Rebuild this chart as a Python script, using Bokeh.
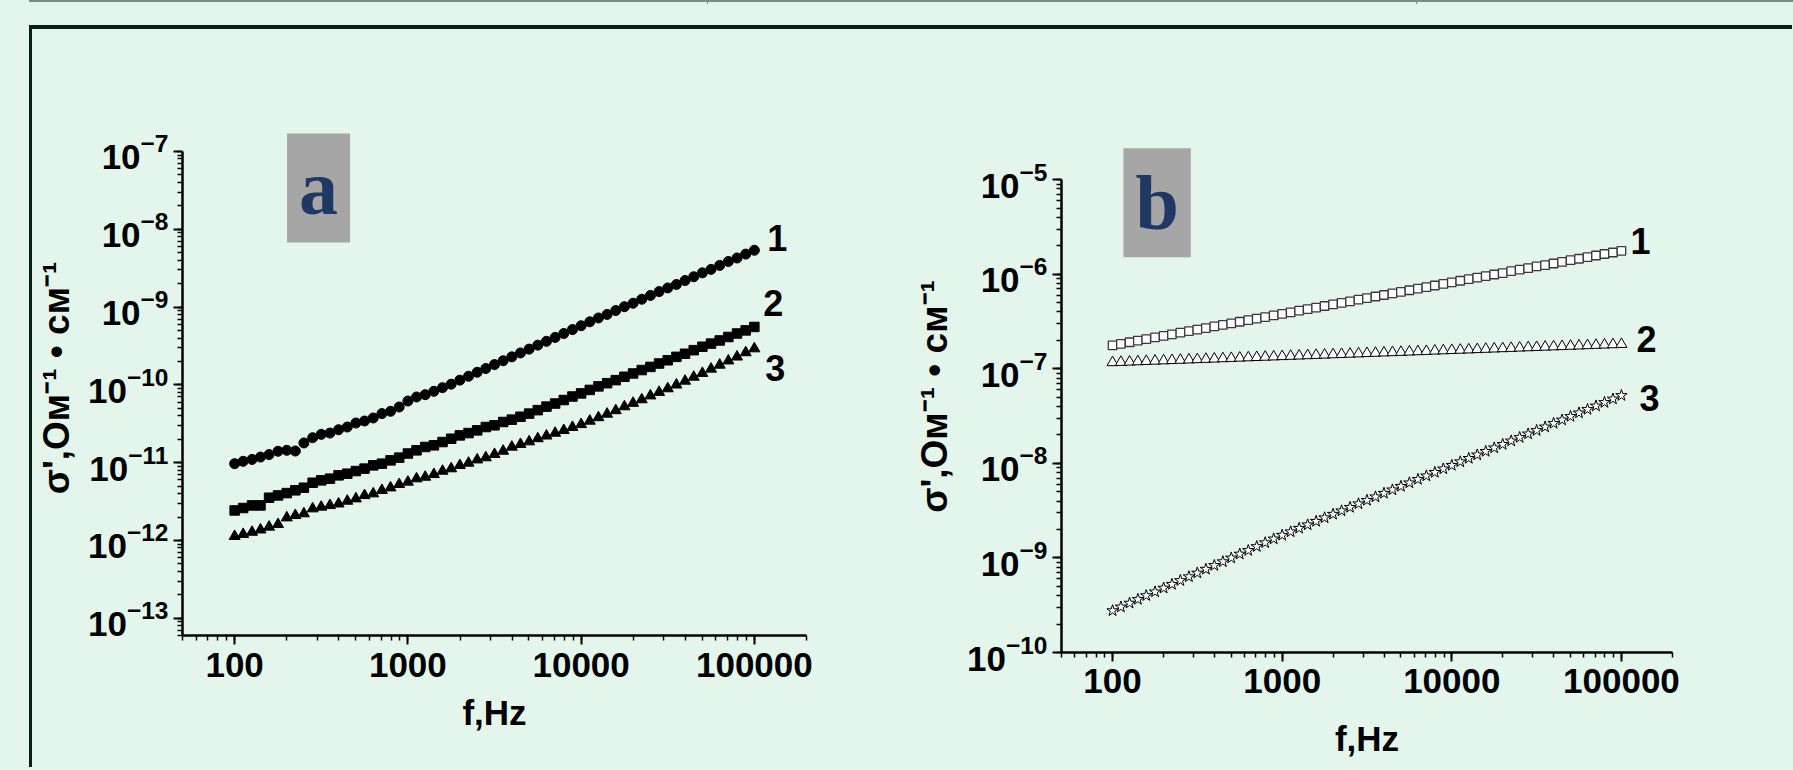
from bokeh.plotting import figure
from bokeh.layouts import row
from bokeh.models import Label, NumeralTickFormatter, ColumnDataSource, LogAxis, FixedTicker
from bokeh.embed import file_html
from bokeh.resources import INLINE

# ---------------- data ----------------
freq = [100, 112, 126, 141, 158, 178, 200, 224, 251, 282, 316, 355, 398, 447, 501, 562, 631, 708, 794, 891,
        1000, 1122, 1259, 1413, 1585, 1778, 1995, 2239, 2512, 2818, 3162, 3548, 3981, 4467, 5012, 5623, 6310,
        7079, 7943, 8913, 10000, 11220, 12589, 14125, 15849, 17783, 19953, 22387, 25119, 28184, 31623, 35481,
        39811, 44668, 50119, 56234, 63096, 70795, 79433, 89125, 100000]

# panel a
a1 = [9.7e-12, 1.04e-11, 1.10e-11, 1.18e-11, 1.27e-11, 1.40e-11, 1.44e-11, 1.41e-11, 1.79e-11, 2.09e-11,
      2.31e-11, 2.40e-11, 2.65e-11, 2.87e-11, 3.23e-11, 3.43e-11, 3.75e-11, 4.27e-11, 4.57e-11, 5.19e-11,
      6.19e-11, 6.98e-11, 7.48e-11, 8.26e-11, 9.20e-11, 1.02e-10, 1.15e-10, 1.29e-10, 1.45e-10, 1.62e-10,
      1.82e-10, 2.04e-10, 2.29e-10, 2.57e-10, 2.88e-10, 3.24e-10, 3.63e-10, 4.07e-10, 4.57e-10, 5.13e-10,
      5.75e-10, 6.46e-10, 7.24e-10, 8.04e-10, 9.02e-10, 1.01e-9, 1.12e-9, 1.26e-9, 1.41e-9, 1.58e-9,
      1.76e-9, 1.95e-9, 2.19e-9, 2.45e-9, 2.75e-9, 3.05e-9, 3.43e-9, 3.85e-9, 4.27e-9, 4.79e-9, 5.37e-9]
a2 = [2.43e-12, 2.61e-12, 2.82e-12, 2.82e-12, 3.54e-12, 3.79e-12, 4.06e-12, 4.41e-12, 4.76e-12, 5.52e-12,
      5.92e-12, 6.22e-12, 6.87e-12, 7.21e-12, 7.80e-12, 8.38e-12, 9.23e-12, 9.70e-12, 1.07e-11, 1.16e-11,
      1.31e-11, 1.44e-11, 1.59e-11, 1.67e-11, 1.84e-11, 2.03e-11, 2.24e-11, 2.40e-11, 2.60e-11, 2.87e-11,
      3.02e-11, 3.33e-11, 3.57e-11, 3.89e-11, 4.27e-11, 4.73e-11, 5.25e-11, 5.75e-11, 6.38e-11, 7.08e-11,
      7.76e-11, 8.61e-11, 9.55e-11, 1.05e-10, 1.15e-10, 1.27e-10, 1.40e-10, 1.55e-10, 1.70e-10, 1.88e-10,
      2.07e-10, 2.29e-10, 2.51e-10, 2.79e-10, 3.09e-10, 3.39e-10, 3.72e-10, 4.12e-10, 4.57e-10, 5.01e-10, 5.55e-10]
a3 = [1.13e-12, 1.20e-12, 1.28e-12, 1.37e-12, 1.49e-12, 1.61e-12, 1.96e-12, 2.10e-12, 2.21e-12, 2.56e-12,
      2.69e-12, 2.82e-12, 2.96e-12, 3.21e-12, 3.44e-12, 3.79e-12, 3.99e-12, 4.41e-12, 4.76e-12, 5.26e-12,
      5.64e-12, 6.22e-12, 6.53e-12, 7.06e-12, 7.80e-12, 8.38e-12, 9.23e-12, 9.89e-12, 1.09e-11, 1.16e-11,
      1.28e-11, 1.41e-11, 1.59e-11, 1.72e-11, 1.86e-11, 2.04e-11, 2.21e-11, 2.40e-11, 2.60e-11, 2.85e-11,
      3.10e-11, 3.43e-11, 3.80e-11, 4.22e-11, 4.68e-11, 5.25e-11, 5.82e-11, 6.46e-11, 7.24e-11, 8.04e-11,
      8.95e-11, 1.00e-10, 1.12e-10, 1.26e-10, 1.41e-10, 1.60e-10, 1.80e-10, 2.04e-10, 2.29e-10, 2.60e-10, 2.92e-10]

# panel b
b1 = [1.77e-7, 1.84e-7, 1.91e-7, 1.99e-7, 2.06e-7, 2.15e-7, 2.23e-7, 2.32e-7, 2.41e-7, 2.50e-7,
      2.60e-7, 2.70e-7, 2.81e-7, 2.92e-7, 3.03e-7, 3.15e-7, 3.27e-7, 3.40e-7, 3.53e-7, 3.67e-7,
      3.81e-7, 3.96e-7, 4.12e-7, 4.28e-7, 4.45e-7, 4.62e-7, 4.80e-7, 4.99e-7, 5.18e-7, 5.39e-7,
      5.60e-7, 5.82e-7, 6.04e-7, 6.28e-7, 6.53e-7, 6.78e-7, 7.05e-7, 7.32e-7, 7.61e-7, 7.91e-7,
      8.22e-7, 8.54e-7, 8.87e-7, 9.22e-7, 9.58e-7, 9.95e-7, 1.03e-6, 1.08e-6, 1.12e-6, 1.16e-6,
      1.21e-6, 1.25e-6, 1.30e-6, 1.35e-6, 1.41e-6, 1.46e-6, 1.52e-6, 1.58e-6, 1.64e-6, 1.70e-6, 1.77e-6]
b2 = [1.167e-7, 1.176e-7, 1.184e-7, 1.193e-7, 1.202e-7, 1.211e-7, 1.220e-7, 1.229e-7, 1.238e-7, 1.247e-7,
      1.257e-7, 1.266e-7, 1.275e-7, 1.285e-7, 1.294e-7, 1.304e-7, 1.314e-7, 1.323e-7, 1.333e-7, 1.343e-7,
      1.353e-7, 1.363e-7, 1.373e-7, 1.384e-7, 1.394e-7, 1.404e-7, 1.415e-7, 1.425e-7, 1.436e-7, 1.446e-7,
      1.457e-7, 1.468e-7, 1.479e-7, 1.490e-7, 1.501e-7, 1.512e-7, 1.524e-7, 1.535e-7, 1.547e-7, 1.558e-7,
      1.570e-7, 1.581e-7, 1.593e-7, 1.605e-7, 1.617e-7, 1.629e-7, 1.641e-7, 1.653e-7, 1.666e-7, 1.678e-7,
      1.690e-7, 1.703e-7, 1.716e-7, 1.728e-7, 1.741e-7, 1.754e-7, 1.767e-7, 1.780e-7, 1.794e-7, 1.807e-7, 1.820e-7]
b3 = [2.77e-10, 3.03e-10, 3.33e-10, 3.65e-10, 4.00e-10, 4.38e-10, 4.80e-10, 5.26e-10, 5.77e-10, 6.33e-10,
      6.93e-10, 7.60e-10, 8.33e-10, 9.13e-10, 1.00e-9, 1.10e-9, 1.20e-9, 1.32e-9, 1.45e-9, 1.59e-9,
      1.74e-9, 1.89e-9, 2.06e-9, 2.24e-9, 2.44e-9, 2.66e-9, 2.90e-9, 3.15e-9, 3.43e-9, 3.74e-9,
      4.07e-9, 4.43e-9, 4.83e-9, 5.25e-9, 5.72e-9, 6.23e-9, 6.78e-9, 7.38e-9, 8.04e-9, 8.75e-9,
      9.53e-9, 1.04e-8, 1.13e-8, 1.23e-8, 1.34e-8, 1.46e-8, 1.59e-8, 1.73e-8, 1.88e-8, 2.05e-8,
      2.23e-8, 2.43e-8, 2.65e-8, 2.88e-8, 3.14e-8, 3.42e-8, 3.72e-8, 4.05e-8, 4.41e-8, 4.80e-8, 5.23e-8]

series_names = ["1", "2", "3"]
x_range = (50, 200000)
ya_axis = (6e-14, 1e-7)      # drawn extent of panel a's y axis
yb_axis = (1e-10, 1e-5)      # drawn extent of panel b's y axis
ya_view = (6e-14, 2.5e-7)    # visible range (room above for the letter box)
yb_view = (1e-10, 2.6e-5)
x_label = "f,Hz"
y_label = "σ',Ом⁻¹ • см⁻¹"

BG = "#e4f6ec"
FONT = "Liberation Sans"
H = 738


def make_panel(width, mbl, mbr, mbt, mbb, yview, ybounds, tick_standoff, xlab_standoff,
               ylab_bounds, ylab_standoff):
    p = figure(width=width, height=H, x_axis_type="log", y_axis_type="log",
               x_range=x_range, y_range=yview, output_backend="svg", toolbar_location=None,
               min_border_left=mbl, min_border_right=mbr, min_border_top=mbt, min_border_bottom=mbb,
               frame_align=False)
    p.background_fill_color = BG
    p.border_fill_color = BG
    p.outline_line_color = None
    p.grid.visible = False
    for ax in (p.xaxis[0], p.yaxis[0]):
        ax.axis_line_width = 2.5
        ax.axis_line_color = "black"
        ax.major_tick_in = 0
        ax.major_tick_out = 9
        ax.minor_tick_in = 0
        ax.minor_tick_out = 5
        ax.major_tick_line_width = 2
        ax.minor_tick_line_width = 1.5
        ax.major_label_text_font = FONT
        ax.major_label_text_font_style = "bold"
        ax.major_label_text_font_size = "35px"
        ax.major_label_text_color = "black"
        ax.axis_label_text_font = FONT
        ax.axis_label_text_font_style = "bold"
        ax.axis_label_text_font_size = "35px"
        ax.axis_label_text_color = "black"
    p.yaxis[0].major_label_standoff = 5
    p.xaxis[0].major_label_standoff = tick_standoff
    p.xaxis[0].formatter = NumeralTickFormatter(format="0")
    p.xaxis[0].axis_label = x_label
    p.xaxis[0].axis_label_standoff = xlab_standoff
    p.yaxis[0].bounds = ybounds
    # a second, bare axis that only carries the y label (lets the label sit off-centre)
    lab_ax = LogAxis(ticker=FixedTicker(ticks=[]), bounds=ylab_bounds, axis_label=y_label,
                     axis_line_color=None, major_tick_out=0, major_tick_in=0,
                     minor_tick_out=0, minor_tick_in=0, major_label_standoff=0,
                     axis_label_standoff=ylab_standoff, axis_label_text_font=FONT,
                     axis_label_text_font_style="bold", axis_label_text_font_size="37px",
                     axis_label_text_color="black")
    p.add_layout(lab_ax, "left")
    return p


def panel_letter(p, text, x, y):
    p.add_layout(Label(x=x, y=y, text=text, text_align="center", text_baseline="middle",
                       text_font="Liberation Serif", text_font_style="bold", text_font_size="78px",
                       text_color="#1f3864", background_fill_color="#a6a6a6", padding=(12, 11)))


def end_labels(p, ys, offsets):
    for name, yv, (dx, dy) in zip(series_names, ys, offsets):
        p.add_layout(Label(x=freq[-1], y=yv[-1], x_offset=dx, y_offset=dy, text=name,
                           text_align="center", text_baseline="middle", text_font=FONT,
                           text_font_style="bold", text_font_size="36px", text_color="black"))


# ---- panel a ----
pa = make_panel(848, 148, 74, 91, 132, ya_view, ya_axis, 8, 13, (3.44e-13, 1e-7), 9)
src_a = ColumnDataSource(dict(f=freq, s1=a1, s2=a2, s3=a3))
pa.scatter("f", "s1", source=src_a, marker="circle", size=10, color="black")
pa.scatter("f", "s2", source=src_a, marker="square", size=9.5, color="black")
pa.scatter("f", "s3", source=src_a, marker="triangle", size=11, color="black")
end_labels(pa, [a1, a2, a3], [(23, 12), (19, 24), (21, -19)])
panel_letter(pa, "a", 305, 3.4e-8)

# ---- panel b ----
pb = make_panel(912, 181, 120, 111, 115, yb_view, yb_axis, 7, 23, (1e-10, 7.65e-6), 10)
src_b = ColumnDataSource(dict(f=freq, s1=b1, s2=b2, s3=b3))
pb.scatter("f", "s1", source=src_b, marker="square", size=8.5, fill_color="white",
           line_color="#3a3a3a", line_width=1.3)
pb.scatter("f", "s2", source=src_b, marker="triangle", size=11, fill_color="white",
           line_color="black", line_width=1)
pb.scatter("f", "s3", source=src_b, marker="star", size=12, fill_color="white",
           line_color="black", line_width=1)
end_labels(pb, [b1, b2, b3], [(19, 10), (25, 5), (28, -3)])
panel_letter(pb, "b", 183, 5.7e-6)

layout = row(pa, pb, styles={"border-top": "4px solid #0b2015", "border-left": "3px solid #0b2015",
                             "margin-left": "29px", "margin-top": "25px"})

page_css = ("<style>body {background: "
            "linear-gradient(#7c8e83, #7c8e83) 29px 0 / 1764px 2px no-repeat, "
            "linear-gradient(#7c8e83, #7c8e83) 707px 0 / 1px 4px no-repeat, "
            "linear-gradient(#7c8e83, #7c8e83) 1416px 0 / 1px 4px no-repeat, %s;}</style>" % BG)

html = file_html(layout, INLINE, title="sigma vs f")
html = html.replace("<head>", "<head>" + page_css, 1)
open("out.html", "w").write(html)
